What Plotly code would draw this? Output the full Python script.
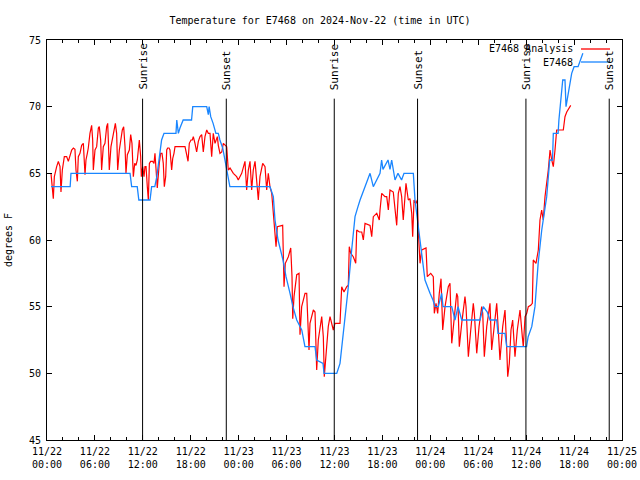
import plotly.graph_objects as go

# ---- data (hours since 2024-11-22 00:00 UTC) ----
tick_hours = [0, 6, 12, 18, 24, 30, 36, 42, 48, 54, 60, 66, 72]
tick_labels = ["11/22<br>00:00", "11/22<br>06:00", "11/22<br>12:00", "11/22<br>18:00",
               "11/23<br>00:00", "11/23<br>06:00", "11/23<br>12:00", "11/23<br>18:00",
               "11/24<br>00:00", "11/24<br>06:00", "11/24<br>12:00", "11/24<br>18:00",
               "11/25<br>00:00"]

sun_hours = [11.97, 22.45, 35.97, 46.4, 59.97, 70.4]
sun_labels = ["Sunrise", "Sunset", "Sunrise", "Sunset", "Sunrise", "Sunset"]

obs_hours = [0.5, 2.9, 3.0, 10.4, 10.6, 11.3, 11.5, 12.9, 13.1, 13.5, 13.75, 14.15, 14.35, 14.65,
             16.15, 16.25, 16.45, 16.65, 17.05, 18.1, 18.25, 20.0, 20.2, 20.3, 20.5, 20.8, 21.15,
             21.45, 21.65, 22.0, 22.3, 22.5, 22.7, 22.9, 27.92, 28.34, 28.55, 28.93, 29.55, 29.93,
             30.43, 30.8, 31.27, 31.9, 32.3, 33.56, 33.77, 34.56, 34.69, 36.28, 36.69, 37.07,
             37.69, 38.15, 38.57, 38.94, 39.2, 39.82, 40.45, 40.86, 41.7, 41.9, 42.07, 42.7,
             42.95, 43.16, 43.58, 43.95, 44.4, 44.7, 45.87, 46.08, 46.33, 46.6, 46.85, 47.08,
             47.33, 47.96, 48.33, 48.58, 49.0, 49.42, 49.59, 50.68, 51.09, 51.47, 51.93, 54.22,
             54.63, 55.13, 55.47, 56.31, 56.47, 57.35, 57.56, 60.05, 60.25, 60.7, 61.1, 61.5,
             61.95, 62.57, 62.95, 63.3, 63.4, 64.0, 64.1, 64.58, 64.86, 64.99, 65.24, 65.7,
             66.0, 66.5, 67.1]
obs_temps = [64, 64, 65, 65, 64, 64, 63, 63, 64, 64, 64.75, 66.5, 67.5, 68,
             68, 69, 68, 68.4, 69, 69, 70, 70, 69.4, 70, 69.25, 68.75, 68,
             68, 67.5, 66.9, 65.9, 65.25, 64.5, 64, 64, 63.25, 61.5, 60, 58.5, 57.25,
             56, 55, 54, 53.25, 52, 52, 51, 50.75, 50, 50, 50.75, 52.75,
             56.25, 59.25, 61.75, 62.5, 63, 64, 65, 64, 65, 66, 65.3, 66,
             65.3, 66, 64.5, 65, 64.5, 65, 65, 63, 61.75, 60.25, 59, 58.25,
             57, 56, 55.5, 55, 55, 56, 55, 55, 54, 55, 54, 54,
             55, 54.6, 54, 54, 53, 53, 52, 52, 52.75, 53.5, 55, 58.25,
             60.75, 63.25, 66, 66, 68, 68, 69, 72, 72, 70, 71, 72.5,
             73, 73, 74]

ana_hours = [0.5, 0.67, 0.79, 0.92, 1.09, 1.21, 1.42, 1.63, 1.75, 1.92, 2.17, 2.46, 2.67, 2.88,
             3.09, 3.3, 3.5, 3.63, 3.8, 3.92, 4.13, 4.34, 4.55, 4.76, 4.88, 5.05, 5.17, 5.38,
             5.59, 5.72, 5.8, 6.01, 6.22, 6.43, 6.55, 6.72, 6.84, 7.05, 7.26, 7.47, 7.6, 7.68,
             7.8, 8.01, 8.18, 8.39, 8.56, 8.72, 8.85, 9.06, 9.22, 9.43, 9.6, 9.77, 9.89, 10.06,
             10.31, 10.48, 10.64, 10.81, 10.98, 11.14, 11.31, 11.48, 11.56, 11.73, 11.81, 11.98,
             12.15, 12.27, 12.4, 12.56, 12.69, 12.82, 12.98, 13.23, 13.4, 13.52, 13.65, 13.81,
             14.06, 14.23, 14.4, 14.56, 14.69, 14.86, 14.99, 15.11, 15.28, 15.4, 15.61, 15.74,
             15.9, 16.03, 16.24, 16.65, 17.28, 17.49, 17.66, 17.82, 18.03, 18.2, 18.32, 18.53,
             18.74, 18.95, 19.16, 19.37, 19.57, 19.78, 20.0, 20.2, 20.41, 20.62, 20.82, 21.04,
             21.33, 21.45, 21.66, 21.88, 22.08, 22.5, 22.7, 22.92, 23.33, 23.75, 23.95, 24.38,
             24.79, 25.0, 25.21, 25.42, 25.63, 25.83, 26.05, 26.46, 26.67, 27.01, 27.3, 27.51,
             27.71, 27.92, 28.14, 28.68, 28.84, 29.51, 29.59, 29.68, 29.84, 30.22, 30.52, 30.68,
             30.77, 30.93, 31.27, 31.56, 31.68, 31.89, 32.31, 32.52, 32.81, 32.93, 33.35, 33.56,
             33.77, 33.97, 34.4, 34.6, 34.72, 34.94, 35.22, 35.44, 35.65, 35.85, 36.06, 36.69,
             36.9, 37.19, 37.53, 37.73, 37.85, 38.03, 38.35, 38.66, 38.78, 39.11, 39.41, 39.61,
             39.82, 40.45, 40.66, 40.86, 41.29, 41.61, 41.7, 41.91, 42.32, 42.54, 42.74, 42.95,
             43.36, 43.58, 43.79, 43.99, 44.2, 44.41, 44.61, 44.95, 45.24, 45.45, 45.67, 45.79,
             45.96, 46.21, 46.37, 46.49, 46.71, 46.92, 47.46, 47.62, 48.05, 48.37, 48.5, 48.71,
             48.92, 49.12, 49.34, 49.55, 49.84, 50.25, 50.46, 50.68, 50.88, 51.3, 51.43, 51.63,
             51.93, 52.34, 52.47, 52.76, 53.06, 53.38, 53.51, 53.81, 54.1, 54.43, 54.56, 54.76,
             55.06, 55.47, 55.68, 55.97, 56.31, 56.39, 56.72, 57.06, 57.35, 57.56, 57.69, 57.89,
             58.1, 58.31, 58.6, 58.89, 59.23, 59.52, 59.64, 59.86, 60.07, 60.27, 60.57, 60.77,
             60.89, 61.23, 61.52, 61.73, 61.94, 62.14, 62.36, 62.77, 62.99, 63.2, 63.4, 63.61,
             63.82, 64.02, 64.65, 64.86, 65.08, 65.58]
ana_temps = [65.0, 63.75, 63.1, 64.75, 65.25, 65.5, 65.9, 65.5, 63.6, 65.25, 66.25, 66.25, 65.9, 66.25,
             66.75, 66.9, 66.8, 65.25, 64.4, 66.25, 66.5, 67.1, 67.25, 64.9, 66.0, 66.5, 66.9, 68.0,
             68.6, 67.5, 65.25, 66.75, 67.0, 68.4, 68.5, 67.5, 65.25, 67.0, 67.25, 68.5, 68.75, 67.5,
             65.25, 67.0, 67.5, 68.25, 68.75, 68.0, 65.25, 66.75, 67.5, 68.25, 68.5, 67.0, 65.0, 66.4,
             66.75, 67.9, 67.25, 64.75, 65.75, 65.6, 66.0, 67.1, 67.5, 66.25, 64.75, 65.5,
             64.75, 65.5, 65.5, 64.0, 63.0, 65.75, 65.9, 65.9, 65.75, 66.5, 65.0, 63.9,
             65.75, 66.5, 66.5, 65.75, 64.0, 64.75, 66.75, 66.9, 66.9, 66.75, 65.25, 66.1,
             66.5, 67.0, 67.0, 67.0, 67.0, 66.4, 65.9, 67.25, 67.5, 67.5, 67.75, 67.25,
             66.6, 67.4, 67.75, 67.9, 66.6, 67.75, 68.25, 68.0, 68.0, 66.25, 68.0, 67.25,
             67.75, 67.1, 66.5, 66.6, 67.25, 67.0, 65.25, 65.4, 65.0, 64.75, 64.5, 65.0,
             65.9, 63.75, 65.25, 65.9, 63.75, 65.25, 65.9, 63.0, 64.75, 65.75, 65.5, 63.75,
             65.0, 64.0, 63.5, 59.5, 61.0, 61.1, 59.25, 56.5, 58.25, 58.75, 59.4, 57.25,
             54.1, 55.75, 57.4, 57.5, 52.9, 55.0, 56.0, 56.0, 51.75, 53.75, 54.75, 54.6,
             50.25, 52.5, 54.25, 52.75, 49.75, 51.25, 53.5, 54.25, 53.75, 53.25, 53.75, 53.75,
             56.5, 56.1, 56.5, 56.6, 59.5, 59.0, 58.75, 58.25, 60.75, 60.6, 60.6, 60.0,
             61.25, 61.1, 60.25, 61.75, 62.0, 61.5, 62.25, 63.5, 63.25, 63.25, 62.25, 63.75,
             63.6, 62.5, 61.1, 63.5, 64.0, 63.25, 61.5, 64.25, 63.0, 63.1, 62.0, 60.25,
             63.0, 62.75, 63.0, 60.75, 58.25, 59.25, 59.4, 57.25, 57.5, 57.25, 54.5, 55.25,
             54.5, 56.0, 57.1, 53.25, 55.0, 56.5, 56.75, 52.25, 53.5, 56.0, 55.75, 52.0,
             53.75, 55.75, 55.0, 51.25, 53.25, 55.25, 54.5, 51.5, 53.5, 55.0, 54.5, 51.25,
             53.5, 55.25, 51.75, 53.5, 55.25, 54.5, 51.0, 53.5, 54.75, 52.0, 49.75, 50.75,
             53.25, 54.0, 51.25, 53.25, 54.75, 52.75, 52.0, 54.25, 54.5, 55.0, 55.1, 55.25,
             58.5, 58.25, 59.25, 61.5, 62.25, 61.5, 63.25, 65.25, 66.75, 66.0, 65.5, 66.75,
             68.25, 68.25, 68.25, 69.25, 69.6, 70.1]

series_names = ["E7468 Analysis", "E7468"]
series_colors = ["#ff0000", "#1a86ff"]

FONT = "DejaVu Sans Mono"

fig = go.Figure()
fig.add_trace(go.Scatter(x=ana_hours, y=ana_temps, mode="lines", name=series_names[0],
                         line=dict(color=series_colors[0], width=1.2), showlegend=False))
fig.add_trace(go.Scatter(x=obs_hours, y=obs_temps, mode="lines", name=series_names[1],
                         line=dict(color=series_colors[1], width=1.3), showlegend=False))

# sunrise / sunset markers
for h, lab in zip(sun_hours, sun_labels):
    fig.add_shape(type="line", xref="x", yref="y", x0=h, x1=h, y0=45, y1=70.6,
                  line=dict(color="black", width=1))
    fig.add_annotation(x=h, y=71.1, xref="x", yref="y", text=lab, textangle=-90,
                       showarrow=False, xanchor="center", yanchor="bottom",
                       font=dict(family=FONT, size=11, color="black"))

# gnuplot-style legend (text then key line) in top-right corner
for i, (name, col) in enumerate(zip(series_names, series_colors)):
    ypx = 49 + 13 * i
    yp = 1 - (ypx - 40) / 400
    fig.add_annotation(xref="paper", yref="paper", x=(575 - 47) / 575, y=yp, text=name,
                       showarrow=False, xanchor="right", yanchor="middle",
                       font=dict(family=FONT, size=10, color="black"))
    fig.add_shape(type="line", xref="paper", yref="paper",
                  x0=(581 - 47) / 575, x1=(610 - 47) / 575, y0=yp, y1=yp,
                  line=dict(color=col, width=1.3))

fig.update_layout(
    width=640, height=480, autosize=False,
    margin=dict(l=47, r=18, t=40, b=40, autoexpand=False),
    paper_bgcolor="white", plot_bgcolor="white",
    font=dict(family=FONT, size=10, color="black"),
    title=dict(text="Temperature for E7468 on 2024-Nov-22 (time in UTC)",
               x=0.5, xanchor="center", y=1 - 20 / 480, yanchor="middle",
               font=dict(family=FONT, size=10, color="black")),
    showlegend=False,
)
fig.update_xaxes(range=[0, 72], tickvals=tick_hours, ticktext=tick_labels, automargin=False,
                 ticks="inside", ticklen=5, tickcolor="black", showline=True, linecolor="black",
                 linewidth=1, mirror="allticks", showgrid=False, zeroline=False,
                 ticklabelstandoff=2,
                 minor=dict(dtick=2, tick0=0, ticks="inside", ticklen=3, tickcolor="black"),
                 tickfont=dict(family=FONT, size=10))
fig.update_yaxes(range=[45, 75], dtick=5, tick0=45, ticks="inside", ticklen=5, tickcolor="black",
                 showline=True, linecolor="black", linewidth=1, mirror="allticks", automargin=False,
                 showgrid=False, zeroline=False, ticklabelstandoff=3,
                 title=dict(text="degrees F", font=dict(family=FONT, size=10), standoff=14),
                 tickfont=dict(family=FONT, size=10))

fig.write_html("out.html")
